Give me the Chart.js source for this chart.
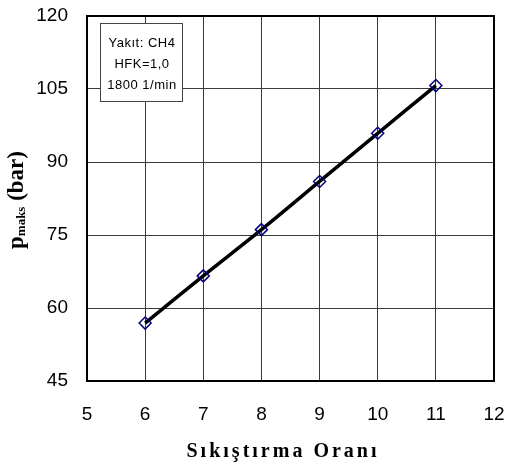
<!DOCTYPE html>
<html lang="tr">
<head>
  <meta charset="UTF-8">
  <title>pmaks - Sıkıştırma Oranı</title>
  <style>
    html, body { margin: 0; padding: 0; background: #fff; }
    #wrap { width: 506px; height: 464px; }
  </style>
</head>
<body>
<div id="wrap"><canvas id="chart" width="506" height="464"></canvas></div>

<script src="https://cdn.jsdelivr.net/npm/chart.js"></script>
<script>
  // data
  const ratios = [6, 7, 8, 9, 10, 11];
  const pmax = [56.9, 66.6, 76.1, 86.0, 95.9, 105.7];
  const xTicks = [5, 6, 7, 8, 9, 10, 11, 12];
  const yTicks = [45, 60, 75, 90, 105, 120];
  const noteLines = ['Yakıt: CH4', 'HFK=1,0', '1800 1/min'];
  const xTitle = 'Sıkıştırma Oranı';

  const points = ratios.map((r, i) => ({ x: r, y: pmax[i] }));

  // frame, legend box and axis titles
  const decorations = {
    id: 'decorations',
    afterDraw(chart) {
      const ctx = chart.ctx;
      const a = chart.chartArea;
      ctx.save();

      // plot frame
      ctx.strokeStyle = '#000';
      ctx.lineWidth = 2;
      ctx.strokeRect(a.left, a.top, a.right - a.left, a.bottom - a.top);

      // note box
      const bx = a.left + 13, by = a.top + 7, bw = 82, bh = 78;
      ctx.fillStyle = '#fff';
      ctx.fillRect(bx, by, bw, bh);
      ctx.strokeStyle = '#444';
      ctx.lineWidth = 1;
      ctx.strokeRect(bx + 0.5, by + 0.5, bw, bh);
      ctx.fillStyle = '#000';
      ctx.font = '13px "Liberation Sans", Arial, sans-serif';
      ctx.letterSpacing = '0.5px';
      ctx.textAlign = 'center';
      ctx.textBaseline = 'middle';
      noteLines.forEach((t, i) => ctx.fillText(t, bx + bw / 2 + 1, by + 20 + i * 21));

      // x title
      ctx.font = 'bold 20px "Liberation Serif", "Times New Roman", serif';
      ctx.letterSpacing = '3px';
      ctx.textAlign = 'center';
      ctx.textBaseline = 'alphabetic';
      ctx.fillText(xTitle, 283, 457);

      // y title: p with subscript "maks"
      ctx.letterSpacing = '0px';
      ctx.translate(23, 200);
      ctx.rotate(-Math.PI / 2);
      const big = 'bold 23px "Liberation Serif", "Times New Roman", serif';
      const small = 'bold 13px "Liberation Serif", "Times New Roman", serif';
      const parts = [['p', big, 0], ['maks', small, 2], [' (bar)', big, 0]];
      let total = 0;
      parts.forEach(p => { ctx.font = p[1]; total += ctx.measureText(p[0]).width; });
      let x = -total / 2;
      ctx.textAlign = 'left';
      parts.forEach(p => {
        ctx.font = p[1];
        ctx.fillText(p[0], x, p[2]);
        x += ctx.measureText(p[0]).width;
      });
      ctx.restore();
    }
  };

  const tickFont = { family: '"Liberation Sans", Arial, sans-serif', size: 19 };

  new Chart(document.getElementById('chart'), {
    type: 'scatter',
    data: {
      datasets: [{
        data: points,
        showLine: true,
        borderColor: '#000',
        borderWidth: 3.5,
        tension: 0.3,
        pointStyle: 'rectRot',
        pointRadius: 6,
        pointBorderColor: '#000080',
        pointBorderWidth: 1.5,
        pointBackgroundColor: 'rgba(0,0,0,0)'
      }]
    },
    options: {
      responsive: false,
      animation: false,
      layout: { padding: { top: 16, right: 12, left: 0, bottom: 0 } },
      plugins: { legend: { display: false }, tooltip: { enabled: false } },
      scales: {
        x: {
          type: 'linear',
          min: xTicks[0],
          max: xTicks[xTicks.length - 1],
          afterBuildTicks: s => { s.ticks = xTicks.map(v => ({ value: v })); },
          afterFit: s => { s.height = 83; s.paddingLeft = 0; s.paddingRight = 0; },
          grid: { color: '#3a3a3a', lineWidth: 1, drawTicks: false },
          border: { display: false },
          ticks: { color: '#000', font: tickFont, padding: 22, maxRotation: 0 }
        },
        y: {
          type: 'linear',
          min: yTicks[0],
          max: yTicks[yTicks.length - 1],
          afterBuildTicks: s => { s.ticks = yTicks.map(v => ({ value: v })); },
          afterFit: s => { s.width = 87; s.paddingTop = 0; s.paddingBottom = 0; },
          grid: { color: '#3a3a3a', lineWidth: 1, drawTicks: false },
          border: { display: false },
          ticks: { color: '#000', font: tickFont, padding: 19 }
        }
      }
    },
    plugins: [decorations]
  });
</script>
</body>
</html>
